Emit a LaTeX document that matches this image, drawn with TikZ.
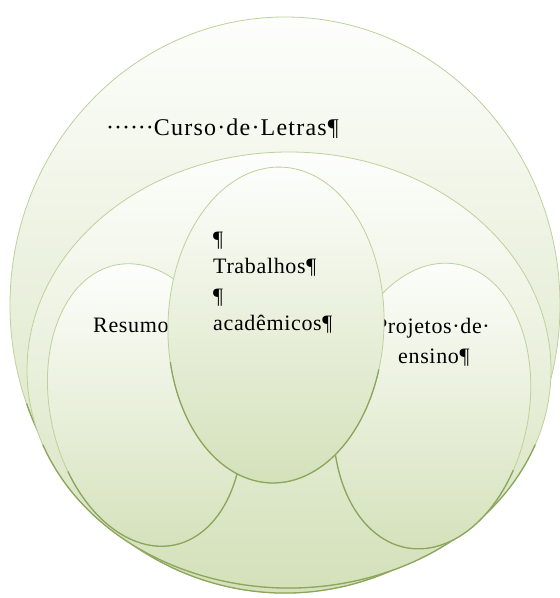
\documentclass[tikz,border=0pt]{standalone}
\usepackage{fontspec}
\setmainfont{Liberation Serif}
\newfontfamily\cursofont[LetterSpace=5]{Liberation Serif}
\newfontfamily\dotfont{Liberation Serif}
\newfontfamily\itemfont[LetterSpace=3]{Liberation Serif}
\usetikzlibrary{positioning}

\definecolor{ringgreen}{HTML}{BCD29A}
\definecolor{rimgreen}{HTML}{8CA65C}
\definecolor{fillgreen}{HTML}{D4E1BA}
\definecolor{fillwhite}{HTML}{FDFEFC}

\begin{document}
\begin{tikzpicture}[x=1pt, y=-1pt,
    ring/.style={draw=ringgreen, line width=0.8pt, top color=fillwhite, bottom color=fillgreen},
    rim/.style={draw=rimgreen, line width=1.3pt},
    cursotext/.style={font=\cursofont\fontsize{24}{28}\selectfont, inner sep=0pt},
    itemtext/.style={font=\itemfont\fontsize{22}{27}\selectfont, inner sep=0pt}]

    % Page
    \fill[white] (0,0) rectangle (560,598);
    \useasboundingbox (0,0) rectangle (560,598);

    % Outer ellipse (Curso de Letras)
    \begin{scope}[shift={(285,305)}]
        \draw[ring] (0,0) ellipse [x radius=275, y radius=288];
        \draw[rim] (20:275 and 288) arc[start angle=20, end angle=160, x radius=275, y radius=288];
    \end{scope}

    % Second ellipse
    \begin{scope}[shift={(289,370)}]
        \draw[ring] (0,0) ellipse [x radius=262, y radius=218];
        \draw[rim] (20:262 and 218) arc[start angle=20, end angle=160, x radius=262, y radius=218];
    \end{scope}

    \node[cursotext, anchor=base east] (CursoTxt) at (339,135) {{\dotfont\fontsize{24}{28}\selectfont ······}Curso·de·Letras¶};

    % Left ellipse (Resumos)
    \begin{scope}[shift={(145,405)}, rotate=12]
        \draw[ring] (0,0) ellipse [x radius=95, y radius=143];
        \draw[rim] (20:95 and 143) arc[start angle=20, end angle=160, x radius=95, y radius=143];
    \end{scope}
    \node[itemtext, anchor=base west] (ResumosTxt) at (93,332) {Resumos¶};

    % Right ellipse (Projetos de ensino)
    \begin{scope}[shift={(432,406)}, rotate=-10]
        \draw[ring] (0,0) ellipse [x radius=97, y radius=144];
        \draw[rim] (20:97 and 144) arc[start angle=20, end angle=160, x radius=97, y radius=144];
    \end{scope}
    \node[itemtext, anchor=base east] (ProjetosTxt) at (490,333) {Projetos·de·};
    \node[itemtext, anchor=base west] (EnsinoTxt) at (398,363) {ensino¶};

    % Center ellipse (Trabalhos academicos)
    \begin{scope}[shift={(276,325)}, rotate=-2]
        \draw[ring] (0,0) ellipse [x radius=108, y radius=158];
        \draw[rim] (15:108 and 158) arc[start angle=15, end angle=165, x radius=108, y radius=158];
    \end{scope}
    \node[itemtext, anchor=base west] (ParaA) at (213,246) {¶};
    \node[itemtext, anchor=base west] (TrabalhosTxt) at (213,273) {Trabalhos¶};
    \node[itemtext, anchor=base west] (ParaB) at (213,303) {¶};
    \node[itemtext, anchor=base west] (AcademicosTxt) at (213,330) {acadêmicos¶};

\end{tikzpicture}
\end{document}
